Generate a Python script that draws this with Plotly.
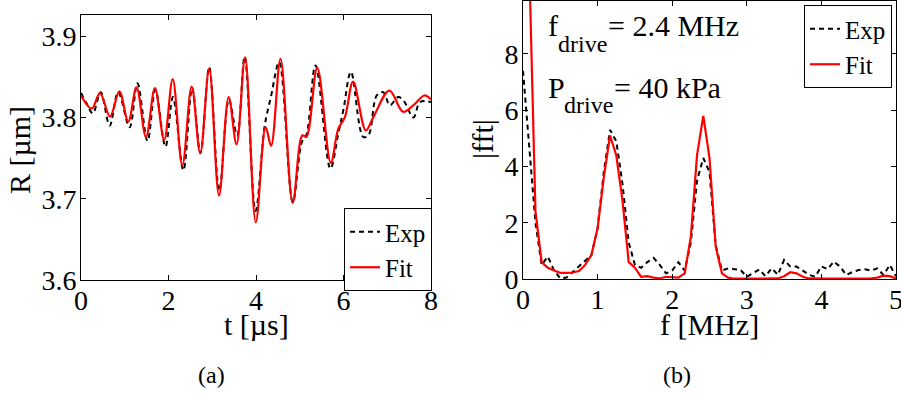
import plotly.graph_objects as go

# ---------------- data: panel (a) ----------------
t_exp = [0, 0.12, 0.27, 0.45, 0.655, 0.85, 1.11, 1.29, 1.52, 1.70, 1.93, 2.1, 2.34, 2.54,
         2.73, 2.93, 3.16, 3.38, 3.57, 3.74, 3.99, 4.2, 4.34, 4.53, 4.84, 5.05, 5.15, 5.36,
         5.70, 5.88, 6.0, 6.17, 6.45, 6.57, 6.76, 6.91, 7.06, 7.25, 7.37, 7.60, 7.75, 8.0]
r_exp = [3.830, 3.818, 3.805, 3.831, 3.790, 3.831, 3.788, 3.842, 3.771, 3.834, 3.764, 3.825,
         3.735, 3.836, 3.756, 3.862, 3.710, 3.822, 3.778, 3.875, 3.685, 3.790, 3.825, 3.868,
         3.696, 3.770, 3.778, 3.864, 3.737, 3.780, 3.810, 3.856, 3.776, 3.778, 3.827, 3.831,
         3.815, 3.825, 3.821, 3.800, 3.819, 3.819]

t_fit = [0, 0.245, 0.434, 0.663, 0.876, 1.08, 1.27, 1.486, 1.69, 1.90, 2.096, 2.316, 2.53,
         2.725, 2.93, 3.155, 3.375, 3.555, 3.75, 3.995, 4.22, 4.345, 4.56, 4.84, 5.06, 5.15,
         5.40, 5.71, 5.88, 6.03, 6.22, 6.51, 6.68, 7.05, 7.36, 7.60, 7.85, 8.0]
r_fit = [3.827, 3.811, 3.830, 3.801, 3.832, 3.795, 3.837, 3.776, 3.836, 3.772, 3.847, 3.741,
         3.838, 3.756, 3.860, 3.704, 3.825, 3.767, 3.874, 3.671, 3.788, 3.765, 3.872, 3.695,
         3.778, 3.776, 3.861, 3.744, 3.786, 3.800, 3.844, 3.784, 3.800, 3.833, 3.807, 3.815,
         3.827, 3.822]

# ---------------- data: panel (b) ----------------
freq = [0.000, 0.083, 0.167, 0.250, 0.333, 0.417, 0.500, 0.583, 0.667, 0.750,
        0.833, 0.917, 1.000, 1.083, 1.167, 1.250, 1.333, 1.417, 1.500, 1.583,
        1.667, 1.750, 1.833, 1.917, 2.000, 2.083, 2.167, 2.250, 2.333, 2.417,
        2.500, 2.583, 2.667, 2.750, 2.833, 2.917, 3.000, 3.083, 3.167, 3.250,
        3.333, 3.417, 3.500, 3.583, 3.667, 3.750, 3.833, 3.917, 4.000, 4.083,
        4.167, 4.250, 4.333, 4.417, 4.500, 4.583, 4.667, 4.750, 4.833, 4.917, 5.000]
fft_exp = [7.4, 4.6, 2.0, 0.5, 0.8, 0.3, 0.02, 0.05, 0.25, 0.45,
           0.65, 0.85, 1.8, 3.8, 5.3, 4.9, 3.4, 1.3, 0.5, 0.4,
           0.6, 0.75, 0.5, 0.2, 0.3, 0.6, 0.3, 1.3, 3.5, 4.3,
           3.8, 1.2, 0.3, 0.38, 0.35, 0.32, 0.08, 0.2, 0.34, 0.1,
           0.38, 0.15, 0.68, 0.44, 0.44, 0.3, 0.15, 0.08, 0.45, 0.35,
           0.62, 0.44, 0.14, 0.25, 0.32, 0.35, 0.3, 0.38, 0.14, 0.5, 0.1]
fft_fit = [20.0, 11.0, 2.4, 0.6, 0.4, 0.3, 0.22, 0.22, 0.23, 0.28,
           0.5, 0.85, 1.8, 3.6, 5.1, 4.4, 2.8, 0.6, 0.4, 0.08,
           0.1, 0.05, 0.02, 0.08, 0.06, 0.05, 0.2, 1.5, 4.4, 5.8,
           4.3, 1.15, 0.2, 0.05, 0.01, 0.01, 0.01, 0.01, 0.01, 0.01,
           0.01, 0.02, 0.1, 0.24, 0.2, 0.08, 0.02, 0.01, 0.01, 0.01,
           0.01, 0.01, 0.01, 0.01, 0.01, 0.01, 0.02, 0.05, 0.12, 0.1, 0.02]

FONT = "Liberation Serif"
W, H = 901, 394

def px_x(x):
    return x / W

def px_y(y):
    return (H - y) / H

fig = go.Figure()

dash = "5px,4px"
fig.add_trace(go.Scatter(x=t_exp, y=r_exp, name="Exp", mode="lines", line_shape="spline",
                         line=dict(color="black", width=2, dash=dash),
                         xaxis="x", yaxis="y", legend="legend"))
fig.add_trace(go.Scatter(x=t_fit, y=r_fit, name="Fit", mode="lines", line_shape="spline",
                         line=dict(color="#ff0000", width=2.2),
                         xaxis="x", yaxis="y", legend="legend"))
fig.add_trace(go.Scatter(x=freq, y=fft_exp, name="Exp", mode="lines",
                         line=dict(color="black", width=2, dash=dash),
                         xaxis="x2", yaxis="y2", legend="legend2"))
fig.add_trace(go.Scatter(x=freq, y=fft_fit, name="Fit", mode="lines",
                         line=dict(color="#ff0000", width=2.2),
                         xaxis="x2", yaxis="y2", legend="legend2"))

axis_common = dict(showline=True, linecolor="black", linewidth=1, mirror="ticks",
                   ticks="inside", ticklen=5, tickcolor="black", showgrid=False,
                   zeroline=False, automargin=False,
                   tickfont=dict(family=FONT, size=28, color="black"))
xax = dict(ticklabelstandoff=-5, ticklabeloverflow="allow", **axis_common)
yax = dict(ticklabelstandoff=-2, **axis_common)

leg_common = dict(xanchor="left", yanchor="top", bgcolor="white", bordercolor="black",
                  borderwidth=1, font=dict(family=FONT, size=25, color="black"),
                  tracegroupgap=0, itemwidth=30)

fig.update_layout(
    width=W, height=H,
    margin=dict(l=0, r=0, t=0, b=0, autoexpand=False),
    paper_bgcolor="white", plot_bgcolor="white",
    font=dict(family=FONT, color="black"),
    xaxis=dict(domain=[px_x(81), px_x(431)], range=[0, 8], dtick=2, anchor="y", **xax),
    yaxis=dict(domain=[px_y(280), px_y(15)], range=[3.6, 3.926], dtick=0.1, tickformat=".1f",
               anchor="x", **yax),
    xaxis2=dict(domain=[px_x(523), px_x(896)], range=[0, 5], dtick=1, anchor="y2", **xax),
    yaxis2=dict(domain=[px_y(279), px_y(1)], range=[0, 9.88], dtick=2, anchor="x2", **yax),
    legend=dict(x=px_x(344), y=px_y(208), **leg_common),
    legend2=dict(x=px_x(804), y=px_y(5), **leg_common),
    showlegend=True,
)

def add_text(text, x, y, size, angle=0, xanchor="center"):
    fig.add_annotation(text=text, x=px_x(x), y=px_y(y), xref="paper", yref="paper",
                       showarrow=False, textangle=angle, xanchor=xanchor, yanchor="middle",
                       borderpad=0, font=dict(family=FONT, size=size, color="black"))

add_text("t [µs]", 256, 324, 30)
add_text("R [µm]", 19, 150, 30, angle=-90)
add_text("f [MHz]", 709, 324, 30)
add_text("|fft|", 482, 139, 30, angle=-90)
add_text("(a)", 211, 375, 24)
add_text("(b)", 677, 375, 24)

# f_drive / P_drive labels (main text + lowered subscript)
add_text("f", 547, 25, 30, xanchor="left")
add_text("drive", 557, 44, 24, xanchor="left")
add_text("= 2.4 MHz", 607, 25, 30, xanchor="left")
add_text("P", 547, 87, 30, xanchor="left")
add_text("drive", 563, 105, 24, xanchor="left")
add_text("= 40 kPa", 613, 87, 30, xanchor="left")

fig.write_html("out.html")
